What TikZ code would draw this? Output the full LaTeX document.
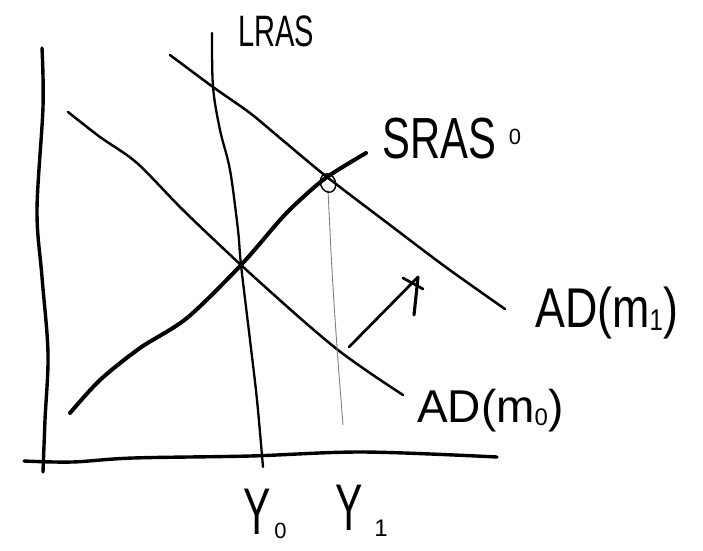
\documentclass[tikz,border=0pt]{standalone}
\usepackage{fontspec}
\setmainfont{Liberation Sans}
\begin{document}
\begin{tikzpicture}[x=1pt,y=-1pt,line cap=round,line join=round,
  axis/.style={line width=3.4pt},
  adcurve/.style={line width=2.5pt},
  srascurve/.style={line width=4pt},
  lrascurve/.style={line width=2.3pt},
  guide/.style={line width=0.9pt,black!50},
  lbl/.style={inner sep=0pt,anchor=base west}]
\useasboundingbox (0,0) rectangle (703,550);
% key points
\coordinate (E0) at (241,265);
\coordinate (E1) at (327,177);
\coordinate (C1) at (328,183);
\coordinate (arrS) at (349,347);
\coordinate (arrT) at (418,277);
% axes
\draw[axis] plot[smooth,tension=0.55] coordinates {(42,48) (43,107) (37,210) (42,277) (48,353) (45,420) (43,472)};
\draw[axis] plot[smooth,tension=0.55] coordinates {(24,461) (72,462) (133,458) (250,456) (363,452) (497,457)};
% LRAS
\draw[lrascurve] plot[smooth,tension=0.55] coordinates {(212,33) (213,87) (220,130) (230,170) (238,230) (E0) (250,340) (257,400) (263,467)};
% AD(m1)
\draw[adcurve] plot[smooth,tension=0.5] coordinates {(170,55) (213,87) (250,113) (280,138) (E1) (390,225) (447,268) (505,309)};
% AD(m0)
\draw[adcurve] plot[smooth,tension=0.5] coordinates {(68,112) (100,137) (137,163) (183,210) (E0) (300,318) (338,350) (370,373) (403,395)};
% SRAS
\draw[srascurve] plot[smooth,tension=0.5] coordinates {(70,413) (100,380) (140,348) (187,318) (E0) (280,220) (300,200) (E1) (366,153)};
% Y1 guide
\draw[guide] plot[smooth,tension=0.6] coordinates {(328,190) (332,270) (337,347) (343,425)};
% circle at new equilibrium
\draw[line width=1.4pt,rotate around={20:(C1)}] (C1) ellipse (7.5pt and 9.5pt);
% shift arrow
\draw[line width=2.7pt] (arrS) -- (arrT);
\draw[line width=2.7pt] (403,278) -- (423,289);
\draw[line width=3.1pt] (arrT) -- (414,315);
% labels
\node[lbl] (lras) at (238,46) {\fontsize{44}{44}\selectfont\scalebox{0.66}[1]{LRAS}};
\node[lbl] (sras) at (382,158) {\fontsize{58}{58}\selectfont\scalebox{0.72}[1]{SRAS}\hspace{13pt}\raisebox{14pt}{\fontsize{22}{22}\selectfont 0}};
\node[lbl] (adm1) at (535,327) {\fontsize{56}{56}\selectfont\scalebox{0.8}[1]{AD(m\raisebox{-3pt}{\fontsize{30}{30}\selectfont 1})}};
\node[lbl] (adm0) at (417,422) {\fontsize{46}{46}\selectfont AD(m\raisebox{-3pt}{\fontsize{24}{24}\selectfont 0})};
\node[lbl] (y0) at (243,534) {\fontsize{66}{66}\selectfont\scalebox{0.62}[1]{Y}\hspace{4pt}\raisebox{-4pt}{\fontsize{22}{22}\selectfont 0}};
\node[lbl] (y1) at (335,530) {\fontsize{66}{66}\selectfont\scalebox{0.62}[1]{Y}\hspace{12pt}\raisebox{-6pt}{\fontsize{24}{24}\selectfont 1}};
\end{tikzpicture}
\end{document}
